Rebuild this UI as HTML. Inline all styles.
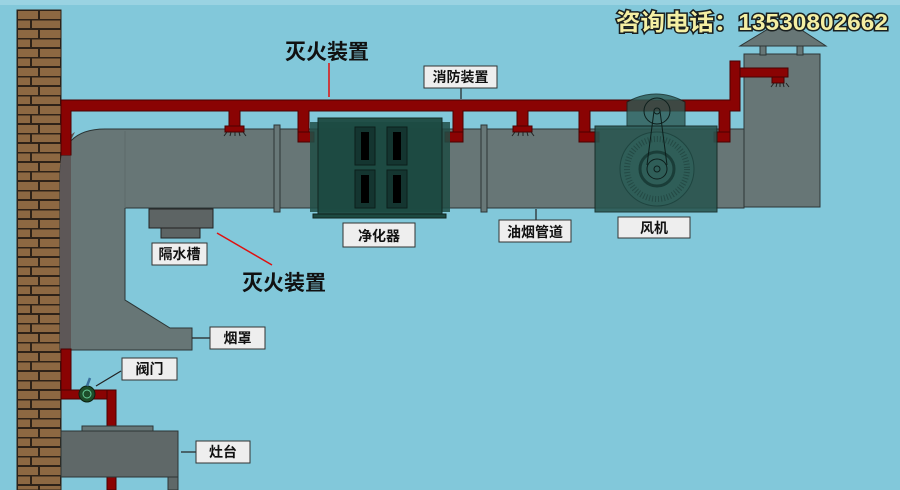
<!DOCTYPE html>
<html><head><meta charset="utf-8"><style>
html,body{margin:0;padding:0;width:900px;height:490px;overflow:hidden;background:#82c8da}
svg{display:block}
text{font-family:"Liberation Sans","Noto Sans CJK SC",sans-serif;font-weight:bold}
</style></head><body>
<svg width="900" height="490" viewBox="0 0 900 490" xmlns="http://www.w3.org/2000/svg">
<defs>
<pattern id="brick" x="17" y="10" width="44" height="19" patternUnits="userSpaceOnUse">
<rect width="44" height="19" fill="#2e2218"/>
<rect x="1" y="1" width="20" height="8" fill="#8d6842"/>
<rect x="23" y="1" width="21" height="8" fill="#8d6842"/>
<rect x="1" y="10.5" width="12" height="7.5" fill="#8d6842"/>
<rect x="15" y="10.5" width="28" height="7.5" fill="#8d6842"/>
</pattern>
</defs>
<rect width="900" height="490" fill="#82c8da"/>
<rect width="900" height="5" fill="#9ad3e2"/>
<rect x="17" y="10" width="44" height="480" fill="url(#brick)" stroke="#2e2218" stroke-width="1"/>

<!-- duct -->
<path d="M71 350 L60 350 L60 175 Q60 129 105 129 L744 129 L744 208 L125 208 L125 300 L170 328 L192 328 L192 350 Z" fill="#677676" stroke="#2c3535" stroke-width="1"/>
<path d="M60 350 L60 175 Q60 140 75 132 L71 140 L71 350 Z" fill="#5d5757"/>
<line x1="125" y1="131" x2="125" y2="208" stroke="#5d6a6a" stroke-width="1"/>
<rect x="274" y="125" width="6" height="87" fill="#687878" stroke="#2c3535"/>
<rect x="481" y="125" width="6" height="87" fill="#687878" stroke="#2c3535"/>
<!-- chimney -->
<rect x="744" y="54" width="76" height="153" fill="#677676" stroke="#2c3535"/>
<rect x="760" y="46" width="6" height="9" fill="#677676" stroke="#2c3535"/>
<rect x="797" y="46" width="6" height="9" fill="#677676" stroke="#2c3535"/>
<polygon points="740,46 826,46 800,29 768,29" fill="#677676" stroke="#2c3535"/>

<!-- red pipes -->
<g fill="#8a0303" stroke="#4a0000" stroke-width="1">
<rect x="61" y="100" width="677" height="11"/>
<rect x="61" y="100" width="10" height="55"/>
<rect x="229" y="100" width="11" height="26"/>
<rect x="225" y="126" width="19" height="6"/>
<rect x="298" y="100" width="11" height="42"/>
<rect x="298" y="132" width="16" height="10"/>
<rect x="453" y="100" width="10" height="42"/>
<rect x="445" y="132" width="18" height="10"/>
<rect x="517" y="100" width="11" height="26"/>
<rect x="513" y="126" width="19" height="6"/>
<rect x="579" y="100" width="11" height="42"/>
<rect x="579" y="132" width="20" height="10"/>
<rect x="719" y="100" width="11" height="42"/>
<rect x="714" y="132" width="16" height="10"/>
<rect x="730" y="61" width="10" height="50"/>
<rect x="740" y="68" width="48" height="9"/>
<rect x="772" y="77" width="12" height="6"/>
<rect x="61" y="349" width="10" height="48"/>
<rect x="61" y="390" width="55" height="9"/>
<rect x="107" y="390" width="9" height="40"/>
<rect x="107" y="477" width="9" height="13"/>
</g>
<rect x="61.5" y="101" width="9" height="54" fill="#8a0303"/>
<rect x="62" y="100.5" width="675" height="10" fill="#8a0303"/>
<rect x="731" y="62" width="8" height="48" fill="#8a0303"/>
<g stroke="#222" stroke-width="1">
<path d="M227 132l-3 4M231 132l-1 4M235 132v4M239 132l1 4M243 132l3 4"/>
<path d="M515 132l-3 4M519 132l-1 4M523 132v4M527 132l1 4M531 132l3 4"/>
<path d="M774 83l-3 4M777 83l-1 4M780 83v4M783 83l1 4M786 83l3 4"/>
</g>

<!-- purifier -->
<rect x="310" y="122" width="140" height="90" fill="#204d45" opacity="0.85"/>
<rect x="318" y="118" width="124" height="96" fill="#1d4a42" stroke="#10241f" opacity="0.95"/>
<rect x="313" y="214" width="133" height="4" fill="#1d4a42" stroke="#10241f"/>
<g fill="#143530" stroke="#0c1f1b">
<rect x="355" y="127" width="20" height="38"/><rect x="387" y="127" width="20" height="38"/>
<rect x="355" y="170" width="20" height="38"/><rect x="387" y="170" width="20" height="38"/>
</g>
<g fill="#000"><rect x="361" y="132" width="8" height="28"/><rect x="393" y="132" width="8" height="28"/><rect x="361" y="175" width="8" height="28"/><rect x="393" y="175" width="8" height="28"/></g>

<!-- fan -->
<path d="M627 126 L627 102 Q656 86 685 102 L685 126 Z" fill="#2c5a54" opacity="0.8" stroke="#10241f"/>
<rect x="595" y="126" width="122" height="86" fill="#295650" opacity="0.88" stroke="#10241f"/>
<circle cx="657" cy="169" r="37" fill="#2f5e58" stroke="#1f4540"/>
<circle cx="657" cy="169" r="30" fill="none" stroke="#244a45" stroke-width="6" stroke-dasharray="1 2"/>
<circle cx="657" cy="169" r="17" fill="none" stroke="#1a3d38" stroke-width="3"/>
<circle cx="657" cy="169" r="10" fill="none" stroke="#0d1f1c"/>
<circle cx="657" cy="169" r="3" fill="none" stroke="#0d1f1c"/>
<circle cx="657" cy="111" r="13" fill="none" stroke="#0d1f1c"/>
<circle cx="657" cy="111" r="3" fill="none" stroke="#0d1f1c"/>
<path d="M647 165 L654 111 M667 165 L660 111" stroke="#0d1f1c" fill="none"/>

<!-- water trough -->
<rect x="149" y="209" width="64" height="19" fill="#5d6464" stroke="#222"/>
<rect x="161" y="228" width="39" height="10" fill="#5d6464" stroke="#222"/>

<!-- valve -->
<circle cx="87" cy="394" r="8" fill="#1d4d2a" stroke="#0b2010"/>
<circle cx="87" cy="394" r="4" fill="none" stroke="#6c9" stroke-width="1"/>
<line x1="87" y1="386" x2="90" y2="378" stroke="#3a6f9c" stroke-width="2.5"/>

<!-- stove -->
<rect x="82" y="426" width="71" height="5" fill="#677676" stroke="#2c3535"/>
<rect x="61" y="431" width="117" height="46" fill="#5f6868" stroke="#2c3535"/>
<rect x="168" y="477" width="10" height="13" fill="#5f6868" stroke="#2c3535"/>

<g stroke="#222" stroke-width="1.2">
<line x1="461" y1="88" x2="461" y2="99"/>
<line x1="536" y1="209" x2="536" y2="220"/>
<line x1="192" y1="338" x2="210" y2="338"/>
<line x1="96" y1="386" x2="121" y2="371"/>
<line x1="181" y1="452" x2="196" y2="452"/>
</g>
<g stroke="#e01010" stroke-width="1.5">
<line x1="329" y1="63" x2="329" y2="97"/>
<line x1="217" y1="233" x2="272" y2="265"/>
</g>

<g fill="#eeeeee" stroke="#333" stroke-width="1">
<rect x="424" y="66" width="73" height="22"/>
<rect x="343" y="223" width="72" height="24"/>
<rect x="499" y="220" width="72" height="22"/>
<rect x="618" y="217" width="72" height="21"/>
<rect x="152" y="243" width="55" height="22"/>
<rect x="210" y="327" width="55" height="22"/>
<rect x="122" y="358" width="55" height="22"/>
<rect x="196" y="441" width="54" height="22"/>
</g>
<g font-size="14" fill="#111" text-anchor="middle">
<text x="460.5" y="82">消防装置</text>
<text x="379" y="241">净化器</text>
<text x="535" y="237">油烟管道</text>
<text x="654" y="233">风机</text>
<text x="179.5" y="259">隔水槽</text>
<text x="237.5" y="343">烟罩</text>
<text x="149.5" y="374">阀门</text>
<text x="223" y="457">灶台</text>
</g>
<g font-size="21" fill="#111">
<text x="285" y="59">灭火装置</text>
<text x="242" y="290">灭火装置</text>
</g>
<text x="616" y="30" font-size="23" fill="#f4efa3" stroke="#1a2020" stroke-width="3" paint-order="stroke" textLength="272" lengthAdjust="spacingAndGlyphs">咨询电话：13530802662</text>
</svg>
</body></html>
